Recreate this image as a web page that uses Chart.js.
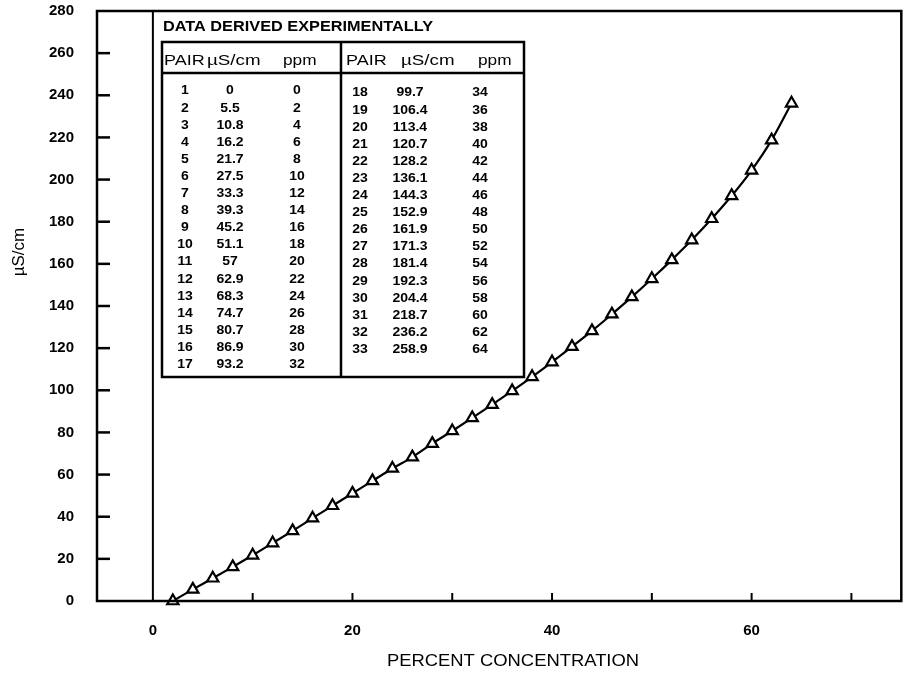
<!DOCTYPE html>
<html>
<head>
<meta charset="utf-8">
<script src="https://cdn.jsdelivr.net/npm/chart.js@4"></script>
<style>
  body { margin: 0; background: #fff; }
  #wrap { width: 910px; height: 677px; }
</style>
</head>
<body>
<div id="wrap"><canvas id="chart" width="910" height="677"></canvas></div>
<script>
'use strict';

// Table data (as printed in the inset)
const pairs = [1, 2, 3, 4, 5, 6, 7, 8, 9, 10, 11, 12, 13, 14, 15, 16, 17,
    18, 19, 20, 21, 22, 23, 24, 25, 26, 27, 28, 29, 30, 31, 32, 33];
const uScm = ['0', '5.5', '10.8', '16.2', '21.7', '27.5', '33.3', '39.3', '45.2', '51.1', '57',
    '62.9', '68.3', '74.7', '80.7', '86.9', '93.2',
    '99.7', '106.4', '113.4', '120.7', '128.2', '136.1', '144.3', '152.9', '161.9', '171.3',
    '181.4', '192.3', '204.4', '218.7', '236.2', '258.9'];
const ppm = [0, 2, 4, 6, 8, 10, 12, 14, 16, 18, 20, 22, 24, 26, 28, 30, 32,
    34, 36, 38, 40, 42, 44, 46, 48, 50, 52, 54, 56, 58, 60, 62, 64];

// Plotted series (triangles)
const concentration = [2, 4, 6, 8, 10, 12, 14, 16, 18, 20, 22, 24, 26, 28, 30, 32,
    34, 36, 38, 40, 42, 44, 46, 48, 50, 52, 54, 56, 58, 60, 62, 64];
const conductivity = [0, 5.5, 10.8, 16.2, 21.7, 27.5, 33.3, 39.3, 45.2, 51.1, 57, 62.9,
    68.3, 74.7, 80.7, 86.9, 93.2, 99.7, 106.4, 113.4, 120.7, 128.2, 136.1, 144.3,
    152.9, 161.9, 171.3, 181.4, 192.3, 204.4, 218.7, 236.2];

// Axis ticks
const xTicks = [0, 10, 20, 30, 40, 50, 60, 70];
const xTickLabels = [0, 20, 40, 60];

const FONT = '"Liberation Sans", Arial, Helvetica, sans-serif';

// The scanned lettering is wider than Arial, so stretch it a little
function wideText(ctx, text, x, y, sx) {
    ctx.save();
    ctx.translate(x, y);
    ctx.scale(sx, 1);
    ctx.fillText(text, 0, 0);
    ctx.restore();
}

// Frame, inward tick marks, zero line, titles and the inset table
const paperPlugin = {
    id: 'paper',
    afterDraw(chart) {
        const { ctx, chartArea: a, scales: { x, y } } = chart;
        ctx.save();
        ctx.strokeStyle = '#000';
        ctx.fillStyle = '#000';

        // frame
        ctx.lineWidth = 2.5;
        ctx.strokeRect(a.left, a.top, a.right - a.left, a.bottom - a.top);

        // vertical line at x = 0
        const x0 = x.getPixelForValue(0);
        ctx.lineWidth = 2;
        ctx.beginPath();
        ctx.moveTo(x0, a.top);
        ctx.lineTo(x0, a.bottom);
        ctx.stroke();

        // inward y ticks
        ctx.lineWidth = 2.5;
        y.ticks.forEach(t => {
            if (t.value <= 0 || t.value >= 280) return;
            const py = y.getPixelForValue(t.value);
            ctx.beginPath();
            ctx.moveTo(a.left, py);
            ctx.lineTo(a.left + 13, py);
            ctx.stroke();
        });

        // inward x ticks
        ctx.lineWidth = 2;
        xTicks.forEach(v => {
            if (v === 0) return;
            const px = x.getPixelForValue(v);
            ctx.beginPath();
            ctx.moveTo(px, a.bottom);
            ctx.lineTo(px, a.bottom - 8);
            ctx.stroke();
        });

        // axis titles
        ctx.font = '16px ' + FONT;
        ctx.textAlign = 'center';
        ctx.textBaseline = 'middle';
        wideText(ctx, 'PERCENT CONCENTRATION', 513, 662, 1.15);
        ctx.save();
        ctx.translate(19, 252);
        ctx.rotate(-Math.PI / 2);
        ctx.font = '17px ' + FONT;
        ctx.fillText('µS/cm', 0, 0);
        ctx.restore();

        // inset table
        const tl = 162, tr = 524, tt = 42, tb = 377, mid = 341, hdr = 73;
        ctx.font = 'bold 14px ' + FONT;
        ctx.textAlign = 'left';
        const title = 'DATA DERIVED EXPERIMENTALLY';
        const w = ctx.measureText(title).width;
        wideText(ctx, title, 163, 27, 270 / w);

        ctx.lineWidth = 2.5;
        ctx.strokeRect(tl, tt, tr - tl, tb - tt);
        ctx.beginPath();
        ctx.moveTo(mid, tt);
        ctx.lineTo(mid, tb);
        ctx.moveTo(tl, hdr);
        ctx.lineTo(tr, hdr);
        ctx.stroke();

        ctx.font = '15px ' + FONT;
        [[164, 207, 283], [346, 401, 478]].forEach(([c1, c2, c3]) => {
            wideText(ctx, 'PAIR', c1, 61, 1.2);
            wideText(ctx, 'µS/cm', c2, 61, 1.25);
            wideText(ctx, 'ppm', c3, 61, 1.15);
        });

        ctx.font = 'bold 12.5px ' + FONT;
        ctx.textAlign = 'center';
        pairs.forEach((p, i) => {
            const left = i < 17;
            const row = left ? i : i - 17;
            const ry = (left ? 91 : 93) + row * 17.1;
            const cols = left ? [185, 230, 297] : [360, 410, 480];
            wideText(ctx, String(p), cols[0], ry, 1.12);
            wideText(ctx, uScm[i], cols[1], ry, 1.12);
            wideText(ctx, String(ppm[i]), cols[2], ry, 1.12);
        });

        ctx.restore();
    }
};

// Fixed axis boxes so the plot frame lands where it is on the page
function fixBox(size) {
    return (scale) => {
        if (scale.isHorizontal()) scale.height = size; else scale.width = size;
        scale.paddingTop = 0;
        scale.paddingBottom = 0;
        scale.paddingLeft = 0;
        scale.paddingRight = 0;
    };
}

new Chart(document.getElementById('chart').getContext('2d'), {
    type: 'line',
    data: {
        datasets: [{
            data: concentration.map((c, i) => ({ x: c, y: conductivity[i] })),
            borderColor: '#000',
            borderWidth: 2.2,
            cubicInterpolationMode: 'monotone',
            pointStyle: 'triangle',
            pointRadius: 6.5,
            pointBorderWidth: 2.2,
            pointBorderColor: '#000',
            pointBackgroundColor: '#fff',
            clip: false
        }]
    },
    options: {
        responsive: false,
        devicePixelRatio: 1,
        animation: false,
        layout: { padding: { top: 11, right: 5, left: 0, bottom: 0 } },
        plugins: {
            legend: { display: false },
            tooltip: { enabled: false }
        },
        scales: {
            x: {
                type: 'linear',
                min: -5.6,
                max: 75,
                grid: { display: false },
                border: { display: false },
                afterBuildTicks: (axis) => { axis.ticks = xTicks.map(v => ({ value: v })); },
                afterFit: fixBox(76),
                ticks: {
                    padding: 13,
                    color: '#000',
                    font: { family: FONT, size: 15, weight: 'bold' },
                    callback: (v) => (xTickLabels.includes(v) ? String(v) : '')
                }
            },
            y: {
                min: 0,
                max: 280,
                grid: { display: false },
                border: { display: false },
                afterFit: fixBox(97),
                ticks: {
                    stepSize: 20,
                    padding: 15,
                    color: '#000',
                    font: { family: FONT, size: 15, weight: 'bold' }
                }
            }
        }
    },
    plugins: [paperPlugin]
});
</script>
</body>
</html>
